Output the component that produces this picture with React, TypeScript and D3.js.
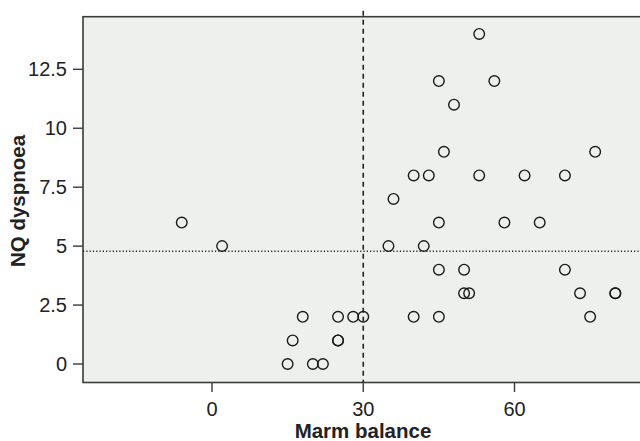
import React from "react";
import * as d3 from "d3";

const marmBalance = [-6, 2, 15, 16, 18, 20, 22, 25, 25, 25, 28, 30, 35, 36, 40, 40, 42, 43, 45, 45, 45, 45, 46, 48, 50, 50, 51, 53, 53, 56, 58, 62, 65, 70, 70, 73, 75, 76, 80, 80];
const nqDyspnoea = [6, 5, 0, 1, 2, 0, 0, 1, 1, 2, 2, 2, 5, 7, 8, 2, 5, 8, 12, 6, 4, 2, 9, 11, 4, 3, 3, 14, 8, 12, 6, 8, 6, 8, 4, 3, 2, 9, 3, 3];
const xTicks = [0, 30, 60];
const yTicks = [0, 2.5, 5, 7.5, 10, 12.5];
const xRef = 30;
const yRef = 4.78;
const xLabel = "Marm balance";
const yLabel = "NQ dyspnoea";

export default function App() {
  const W = 640, H = 441;
  const left = 83, right = 643, top = 16.7, bottom = 382.5;
  const x = d3.scaleLinear().domain([0, 60]).range([212, 514.5]);
  const y = d3.scaleLinear().domain([0, 12.5]).range([364, 69.3]);
  const fmt = d3.format("~g");
  const font = "'Liberation Sans', Arial, Helvetica, sans-serif";
  return (
    <svg width={W} height={H} style={{ position: "absolute", left: 0, top: 0 }}>
      <rect x={left} y={top} width={right - left} height={bottom - top} fill="#eef0ee" stroke="#3a3a3a" strokeWidth={1.6} />
      <line x1={x(xRef)} x2={x(xRef)} y1={top - 6} y2={bottom} stroke="#222" strokeWidth={1.6} strokeDasharray="5,4" />
      <line x1={left} x2={right} y1={y(yRef)} y2={y(yRef)} stroke="#222" strokeWidth={1.4} strokeDasharray="1.2,2.1" />
      {marmBalance.map((v, i) => (
        <circle key={i} cx={x(v)} cy={y(nqDyspnoea[i])} r={5.3} fill="none" stroke="#1a1a1a" strokeWidth={1.4} />
      ))}
      {yTicks.map((t) => (
        <g key={"y" + t}>
          <line x1={73} x2={left} y1={y(t)} y2={y(t)} stroke="#3a3a3a" strokeWidth={1.4} />
          <text x={67} y={y(t)} dy="0.35em" textAnchor="end" fontFamily={font} fontSize={20} fill="#222">{fmt(t)}</text>
        </g>
      ))}
      {xTicks.map((t) => (
        <g key={"x" + t}>
          <line x1={x(t)} x2={x(t)} y1={bottom} y2={392} stroke="#3a3a3a" strokeWidth={1.4} />
          <text x={x(t)} y={416} textAnchor="middle" fontFamily={font} fontSize={20} fill="#222">{fmt(t)}</text>
        </g>
      ))}
      <text x={363} y={437.5} textAnchor="middle" fontFamily={font} fontSize={20.5} fontWeight="bold" fill="#222">{xLabel}</text>
      <text transform={`translate(24.5,201) rotate(-90)`} textAnchor="middle" fontFamily={font} fontSize={20.5} fontWeight="bold" fill="#222">{yLabel}</text>
    </svg>
  );
}
